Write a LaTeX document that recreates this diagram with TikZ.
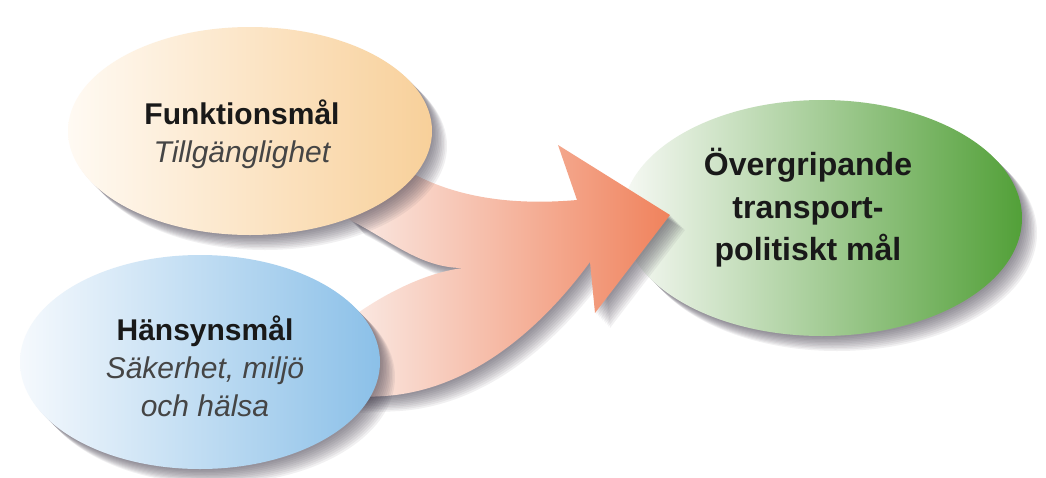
\documentclass[tikz,border=0pt]{standalone}
\usepackage{fontspec}
\setmainfont{Liberation Sans}
\usetikzlibrary{shapes.geometric,shadows}

\definecolor{orangestart}{HTML}{FFFAF3}
\definecolor{orangemid}{HTML}{FCE5C5}
\definecolor{orangeend}{HTML}{F8D09A}
\definecolor{bluestart}{HTML}{F5F9FD}
\definecolor{bluemid}{HTML}{C6E0F3}
\definecolor{blueend}{HTML}{8BC0E8}
\definecolor{greenstart}{HTML}{F7F9F5}
\definecolor{greenmid}{HTML}{B0CBA6}
\definecolor{greenend}{HTML}{52A038}
\definecolor{arrowstart}{HTML}{FBF0EC}
\definecolor{arrowmid}{HTML}{F6C7B4}
\definecolor{arrowend}{HTML}{F0825C}
\definecolor{shadowgrey}{HTML}{3C3646}
\definecolor{subgrey}{HTML}{454545}

\newcommand{\subline}[1]{{\color{subgrey}\mdseries\itshape #1}}

\tikzset{
  shadowstep/.style={general shadow={shadow xshift=#1pt, shadow yshift=-#1pt,
      fill=shadowgrey, opacity=.07}},
  softshadow/.style={shadowstep/.list={1.5,3,4.5,6,7.5,9,10.5,12,13.5,15}},
  goal/.style={ellipse, inner sep=0pt, softshadow},
  titletext/.style={inner sep=0pt, align=center, text=black!90,
      font=\fontsize{30}{38}\selectfont\bfseries}
}

\begin{document}
\begin{tikzpicture}[x=1pt,y=-1pt]
    \useasboundingbox[fill=white] (0,0) rectangle (1046,477);
    % main goal, behind the arrow tip
    \node[goal, minimum width=400pt, minimum height=236pt,
          left color=greenstart, middle color=greenmid, right color=greenend] (overgripande) at (822,218) {};
    % the joined arrow
    \path[softshadow, left color=arrowstart, middle color=arrowmid, right color=arrowend]
        (330,190) -- (350,220) .. controls (390,240) and (420,268) .. (463,268)
        .. controls (430,272) and (390,290) .. (355,315) -- (345,398) -- (385,396)
        .. controls (470,390) and (540,330) .. (590,262) -- (595,313) -- (670,215)
        -- (558,145) -- (577,200) .. controls (520,205) and (460,200) .. (410,172) -- cycle;
    % the two partial goals
    \node[goal, minimum width=364pt, minimum height=208pt,
          left color=orangestart, middle color=orangemid, right color=orangeend] (funktion) at (250,131) {};
    \node[goal, minimum width=360pt, minimum height=214pt,
          left color=bluestart, middle color=bluemid, right color=blueend] (hansyn) at (200,362) {};
    % texts
    \node[titletext] (funktiontext) at (242,134) {Funktionsmål\\\subline{Tillgänglighet}};
    \node[titletext] (hansyntext) at (205,366) {Hänsynsmål\\\subline{Säkerhet, miljö}\\\subline{och hälsa}};
    \node[titletext, font=\fontsize{32}{42.5}\selectfont\bfseries] (overgripandetext) at (808,208)
        {Övergripande\\transport-\\politiskt mål};
\end{tikzpicture}
\end{document}
